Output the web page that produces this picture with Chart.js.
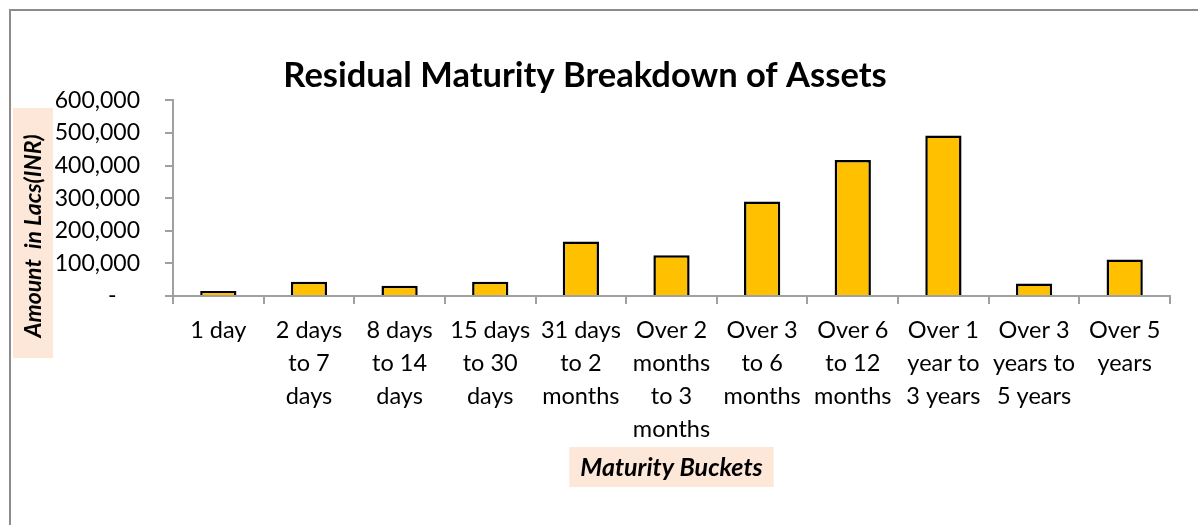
<!DOCTYPE html>
<html>
<head>
<meta charset="utf-8">
<script src="https://cdn.jsdelivr.net/npm/chart.js@4.4.1/dist/chart.umd.min.js"></script>
<style>
  html, body { margin: 0; padding: 0; background: #fff; }
  #wrap { position: relative; width: 1198px; height: 525px; }
</style>
</head>
<body>
<div id="wrap"><canvas id="grafico"></canvas></div>
<script>
const FONTE = "Lato, 'Open Sans', sans-serif";

const buckets = [
  "1 day",
  ["2 days", "to 7", "days"],
  ["8 days", "to 14", "days"],
  ["15 days", "to 30", "days"],
  ["31 days", "to 2", "months"],
  ["Over 2", "months", "to 3", "months"],
  ["Over 3", "to 6", "months"],
  ["Over 6", "to 12", "months"],
  ["Over 1", "year to", "3 years"],
  ["Over 3", "years to", "5 years"],
  ["Over 5", "years"],
];

const valores = [15000, 44000, 31500, 44000, 167000, 125000, 290000, 417000, 492000, 38000, 112000];

const tituloGrafico = "Residual Maturity Breakdown of Assets";
const tituloEixoY = "Amount  in Lacs(INR)";
const tituloEixoX = "Maturity Buckets";

const COR_BARRA = "#FFC000";
const COR_EIXO = "#a0a0a0";
const COR_CAIXA = "#FCE7D9";

// moldura cinza + caixas dos titulos dos eixos
const pluginMolduraETitulos = {
  id: "molduraETitulos",
  beforeDraw(chart) {
    const { ctx, chartArea } = chart;
    ctx.save();
    ctx.strokeStyle = "#8c8c8c";
    ctx.lineWidth = 2;
    ctx.beginPath();
    ctx.moveTo(10, 525);
    ctx.lineTo(10, 10);
    ctx.lineTo(1198, 10);
    ctx.stroke();

    // eixo Y
    ctx.fillStyle = COR_CAIXA;
    ctx.fillRect(13, 108, 40, 250);
    ctx.translate(34, 236);
    ctx.rotate(-Math.PI / 2);
    ctx.font = `italic bold 23px ${FONTE}`;
    ctx.fillStyle = "#000";
    ctx.textAlign = "center";
    ctx.textBaseline = "middle";
    ctx.fillText(tituloEixoY, 0, 0);
    ctx.restore();

    // eixo X
    ctx.save();
    const cx = (chartArea.left + chartArea.right) / 2;
    ctx.font = `italic bold 25px ${FONTE}`;
    const w = ctx.measureText(tituloEixoX).width + 22;
    ctx.fillStyle = COR_CAIXA;
    ctx.fillRect(cx - w / 2, 447, w, 40);
    ctx.fillStyle = "#000";
    ctx.textAlign = "center";
    ctx.textBaseline = "middle";
    ctx.fillText(tituloEixoX, cx, 468);
    ctx.restore();
  },
};

const canvas = document.getElementById("grafico");
new Chart(canvas.getContext("2d"), {
  type: "bar",
  data: {
    labels: buckets,
    datasets: [{
      data: valores,
      backgroundColor: COR_BARRA,
      borderColor: "#000",
      borderWidth: 2.5,
      barPercentage: 0.4,
      categoryPercentage: 1,
    }],
  },
  options: {
    responsive: true,
    maintainAspectRatio: false,
    animation: false,
    layout: { padding: { left: 0, right: 28, top: 0, bottom: 0 } },
    plugins: {
      legend: { display: false },
      tooltip: { enabled: false },
      title: {
        display: true,
        text: tituloGrafico,
        color: "#000",
        font: { family: FONTE, size: 34.5, weight: "bold", lineHeight: 1.2 },
        padding: { top: 55, bottom: 4 },
      },
    },
    scales: {
      x: {
        afterFit: (s) => { s.height = 229; },
        grid: {
          display: true,
          drawOnChartArea: false,
          drawTicks: true,
          tickLength: 8,
          color: COR_EIXO,
          lineWidth: 2,
        },
        border: { display: true, color: COR_EIXO, width: 2 },
        ticks: {
          color: "#000",
          padding: 10,
          maxRotation: 0,
          autoSkip: false,
          font: { family: FONTE, size: 23.5, lineHeight: 33 / 23.5 },
        },
      },
      y: {
        min: 0,
        max: 600000,
        afterFit: (s) => { s.width = 173; },
        grid: {
          display: true,
          drawOnChartArea: false,
          drawTicks: true,
          tickLength: 8,
          color: COR_EIXO,
          lineWidth: 2,
        },
        border: { display: true, color: COR_EIXO, width: 2 },
        ticks: {
          stepSize: 100000,
          color: "#000",
          padding: 25,
          font: { family: FONTE, size: 23 },
          callback: (v) => (v === 0 ? "-    " : v.toLocaleString("en-US")),
        },
      },
    },
  },
  plugins: [pluginMolduraETitulos],
});
</script>
</body>
</html>
